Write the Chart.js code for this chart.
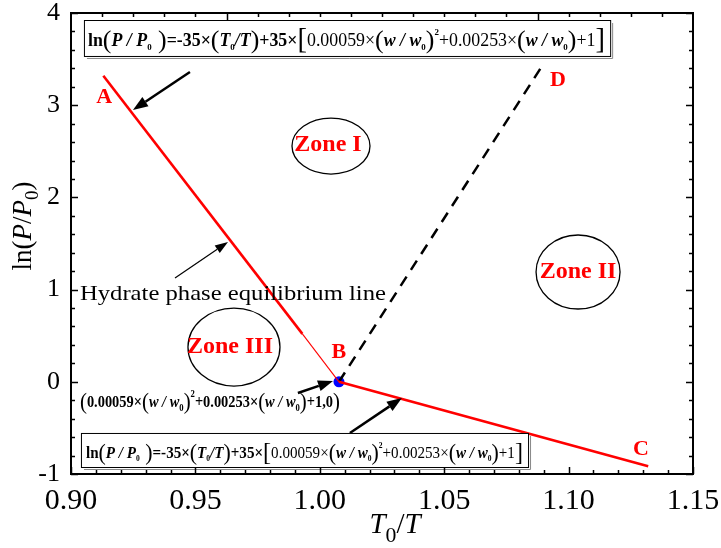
<!DOCTYPE html>
<html>
<head>
<meta charset="utf-8">
<script src="https://cdn.jsdelivr.net/npm/chart.js@4.4.1/dist/chart.umd.min.js"></script>
<style>
  html, body { margin: 0; padding: 0; background: #fff; }
  #wrap { width: 721px; height: 548px; }
</style>
</head>
<body>
<div id="wrap"><canvas id="phaseChart" width="721" height="548"></canvas></div>
<script>
// --- Phase diagram data ---
const xMin = 0.90, xMax = 1.15;
const yMin = -1, yMax = 4;

// hydrate equilibrium line, A -> B (thick part, then thin part near B)
const eqUpperX = [0.913, 0.993];
const eqUpperY = [3.32, 0.52];
const eqThinX = [0.993, 1.0077];
const eqThinY = [0.52, 0];
// B -> C
const eqLowerX = [1.0077, 1.132];
const eqLowerY = [0, -0.915];
// B -> D (dashed boundary)
const boundaryX = [1.0077, 1.0897];
const boundaryY = [0, 3.44];
// point B
const pointBX = [1.0077];
const pointBY = [0];

const toPts = (xs, ys) => xs.map((x, i) => ({ x: x, y: ys[i] }));

const SERIF = '"Liberation Serif", "Times New Roman", serif';

// --- helpers for annotations ---
function fontFor(style, size) {
  const w = style.includes('b') ? 'bold ' : '';
  const it = style.includes('i') ? 'italic ' : '';
  return `${it}${w}${size}px ${SERIF}`;
}

// draws a row of mixed-style text runs squeezed to a given width
function drawRuns(ctx, runs, x, baseline, size, width) {
  let total = 0;
  const widths = runs.map(r => {
    ctx.font = fontFor(r[1], size * (r[2] || 1));
    const w = ctx.measureText(r[0]).width;
    total += w;
    return w;
  });
  const sx = width / total;
  ctx.save();
  ctx.translate(x, baseline);
  ctx.scale(sx, 1);
  ctx.textAlign = 'left';
  ctx.textBaseline = 'alphabetic';
  let cx = 0;
  runs.forEach((r, i) => {
    ctx.font = fontFor(r[1], size * (r[2] || 1));
    ctx.fillText(r[0], cx, (r[3] || 0) * size);
    cx += widths[i];
  });
  ctx.restore();
}

// centred row of runs, natural width
function drawRunsCentered(ctx, runs, cx, baseline, size) {
  let w = 0;
  runs.forEach(r => { ctx.font = fontFor(r[1], size * (r[2] || 1)); w += ctx.measureText(r[0]).width; });
  let x = cx - w / 2;
  runs.forEach(r => {
    ctx.font = fontFor(r[1], size * (r[2] || 1));
    ctx.fillText(r[0], x, baseline + (r[3] || 0) * size);
    x += ctx.measureText(r[0]).width;
  });
}

function arrow(ctx, x1, y1, x2, y2, lw, len, half) {
  const a = Math.atan2(y2 - y1, x2 - x1);
  const bx = x2 - len * Math.cos(a), by = y2 - len * Math.sin(a);
  ctx.save();
  ctx.strokeStyle = '#000';
  ctx.fillStyle = '#000';
  ctx.lineWidth = lw;
  ctx.beginPath();
  ctx.moveTo(x1, y1);
  ctx.lineTo(bx, by);
  ctx.stroke();
  ctx.beginPath();
  ctx.moveTo(x2, y2);
  ctx.lineTo(bx + half * Math.sin(a), by - half * Math.cos(a));
  ctx.lineTo(bx - half * Math.sin(a), by + half * Math.cos(a));
  ctx.closePath();
  ctx.fill();
  ctx.restore();
}

const eqRuns = [
  ['ln', 'b'], ['(', 'r', 1.45, 0.1], ['P', 'bi'], [' / ', 'bi'], ['P', 'bi'], ['0', 'b', 0.5, 0.2],
  [' )', 'r', 1.45, 0.1], ['=-35×', 'b'], ['(', 'r', 1.45, 0.1], ['T', 'bi'], ['0', 'b', 0.5, 0.2],
  ['/T', 'bi'], [')', 'r', 1.45, 0.1], ['+35×', 'b'], ['[', 'r', 1.6, 0.14], ['0.00059×', 'r'],
  ['(', 'r', 1.45, 0.1], ['w / w', 'bi'], ['0', 'b', 0.5, 0.2], [')', 'r', 1.45, 0.1], ['2', 'b', 0.5, -0.6],
  ['+0.00253×', 'r'], ['(', 'r', 1.45, 0.1], ['w / w', 'bi'], ['0', 'b', 0.5, 0.2], [')', 'r', 1.45, 0.1],
  ['+1', 'r'], [']', 'r', 1.6, 0.14]
];

const pointRuns = [
  ['(', 'r', 1.45, 0.1], ['0.00059×', 'b'], ['(', 'r', 1.45, 0.1], ['w / w', 'bi'], ['0', 'b', 0.6, 0.25],
  [')', 'r', 1.45, 0.1], ['2', 'b', 0.6, -0.6], ['+0.00253×', 'b'], ['(', 'r', 1.45, 0.1], ['w / w', 'bi'],
  ['0', 'b', 0.6, 0.25], [')', 'r', 1.45, 0.1], ['+1,0', 'b'], [')', 'r', 1.45, 0.1]
];

const annotations = {
  id: 'annotations',
  afterDatasetsDraw(chart) {
    const { ctx, scales: { x, y } } = chart;
    const px = v => x.getPixelForValue(v);
    const py = v => y.getPixelForValue(v);
    ctx.save();

    // zone ellipses
    ctx.strokeStyle = '#000';
    ctx.lineWidth = 1.3;
    [[1.0045, 2.557, 39, 28], [1.1038, 1.191, 42, 37], [0.9655, 0.377, 46, 39]].forEach(e => {
      ctx.beginPath();
      ctx.ellipse(px(e[0]), py(e[1]), e[2], e[3], 0, 0, Math.PI * 2);
      ctx.stroke();
    });

    // red labels
    ctx.fillStyle = '#ff0000';
    ctx.textAlign = 'center';
    ctx.textBaseline = 'middle';
    ctx.font = `bold 24px ${SERIF}`;
    ctx.fillText('Zone I', px(1.0033), py(2.57));
    ctx.fillText('Zone II', px(1.1038), py(1.19));
    ctx.fillText('Zone III', px(0.9639), py(0.377));
    ctx.font = `bold 22px ${SERIF}`;
    ctx.fillText('A', px(0.9133), py(3.089));
    ctx.fillText('D', px(1.0957), py(3.273));
    ctx.fillText('B', px(1.0077), py(0.323));
    ctx.fillText('C', px(1.1291), py(-0.729));

    // hydrate line caption
    ctx.fillStyle = '#000';
    ctx.textAlign = 'left';
    ctx.textBaseline = 'alphabetic';
    ctx.font = `21px ${SERIF}`;
    const cap = 'Hydrate phase equilibrium line';
    const capW = ctx.measureText(cap).width;
    ctx.save();
    ctx.translate(px(0.9036), py(0.89));
    ctx.scale(306 / capW, 1);
    ctx.fillText(cap, 0, 0);
    ctx.restore();

    // arrows
    arrow(ctx, px(0.9478), py(3.36), px(0.9249), py(2.948), 2.5, 15, 5.5);
    arrow(ctx, px(0.9418), py(1.126), px(0.9631), py(1.516), 1.2, 13, 4.5);
    arrow(ctx, px(0.9912), py(-0.121), px(1.0053), py(0.009), 2.5, 15, 5.5);
    arrow(ctx, px(1.0121), py(-0.555), px(1.033), py(-0.176), 2.5, 15, 5.5);

    // equation boxes
    const box = (x1, y1, x2, y2) => {
      const l = px(x1), t = py(y1), r = px(x2), b = py(y2);
      ctx.fillStyle = '#fff';
      ctx.fillRect(l, t, r - l, b - t);
      ctx.strokeStyle = '#000';
      ctx.lineWidth = 1;
      ctx.strokeRect(l + 0.5, t + 0.5, r - l, b - t);
      ctx.strokeStyle = '#888';
      ctx.beginPath();
      ctx.moveTo(l + 3, b + 2.5);
      ctx.lineTo(r + 2.5, b + 2.5);
      ctx.lineTo(r + 2.5, t + 3);
      ctx.stroke();
      return { l, t, r, b };
    };
    const top = box(0.9052, 3.924, 1.1167, 3.534);
    ctx.fillStyle = '#000';
    drawRuns(ctx, eqRuns, top.l + 4, top.b - 10, 18, 517);
    const bot = box(0.9040, -0.555, 1.0837, -0.924);
    ctx.fillStyle = '#000';
    drawRuns(ctx, eqRuns, bot.l + 5, bot.b - 9, 16, 437);
    drawRuns(ctx, pointRuns, px(0.9036), py(-0.273), 16, 260);

    ctx.restore();
  }
};

// frame, inward ticks on all four sides, and axis titles
const frame = {
  id: 'frame',
  afterDraw(chart) {
    const { ctx, chartArea: a, scales: { x, y } } = chart;
    ctx.save();
    ctx.strokeStyle = '#000';
    ctx.lineWidth = 2;
    ctx.strokeRect(a.left, a.top, a.right - a.left, a.bottom - a.top);
    ctx.lineWidth = 1.5;
    ctx.beginPath();
    for (let i = 0; i <= 25; i++) {
      const v = xMin + i * 0.01;
      const p = Math.round(x.getPixelForValue(v)) + 0.5;
      const len = i % 5 === 0 ? 7 : 4;
      ctx.moveTo(p, a.bottom);
      ctx.lineTo(p, a.bottom - len);
    }
    for (let k = 1; k < 20; k++) {
      const p = Math.round(a.left + (a.right - a.left) * k / 20) + 0.5;
      const len = (k === 5 || k === 15) ? 7 : 4;
      ctx.moveTo(p, a.top);
      ctx.lineTo(p, a.top + len);
    }
    for (let i = 0; i <= 25; i++) {
      const v = yMin + i * 0.2;
      const p = Math.round(y.getPixelForValue(v)) + 0.5;
      const len = i % 5 === 0 ? 7 : 4;
      ctx.moveTo(a.left, p);
      ctx.lineTo(a.left + len, p);
      ctx.moveTo(a.right, p);
      ctx.lineTo(a.right - len, p);
    }
    ctx.stroke();

    ctx.fillStyle = '#000';
    ctx.textBaseline = 'alphabetic';
    // y title: ln(P/P0)
    ctx.save();
    ctx.translate(31, 226);
    ctx.rotate(-Math.PI / 2);
    drawRunsCentered(ctx, [['ln(', 'r'], ['P', 'i'], ['/', 'r'], ['P', 'i'], ['0', 'r', 0.7, 0.25], [')', 'r']], 0, 0, 27);
    ctx.restore();
    // x title: T0/T
    drawRunsCentered(ctx, [['T', 'i'], ['0', 'r', 0.75, 0.3], ['/', 'r'], ['T', 'i']], 395, 533, 29);
    ctx.restore();
  }
};

// keep the plot box fixed: no extra room for label overhang
const noOverhang = s => {
  s.paddingTop = 0;
  s.paddingBottom = 0;
  s.paddingLeft = 0;
  s.paddingRight = 0;
};

const ctx = document.getElementById('phaseChart').getContext('2d');
new Chart(ctx, {
  type: 'scatter',
  data: {
    datasets: [
      { data: toPts(eqUpperX, eqUpperY), showLine: true, borderColor: '#ff0000', borderWidth: 2.6, pointRadius: 0 },
      { data: toPts(eqThinX, eqThinY), showLine: true, borderColor: '#ff0000', borderWidth: 1.1, pointRadius: 0 },
      { data: toPts(eqLowerX, eqLowerY), showLine: true, borderColor: '#ff0000', borderWidth: 2.6, pointRadius: 0 },
      { data: toPts(boundaryX, boundaryY), showLine: true, borderColor: '#000', borderWidth: 2.5,
        borderDash: [11, 8], pointRadius: 0 },
      { data: toPts(pointBX, pointBY), pointRadius: 5.5, pointBackgroundColor: '#0000ff',
        pointBorderColor: '#0000ff', borderWidth: 0 }
    ]
  },
  options: {
    responsive: false,
    animation: false,
    layout: { padding: { top: 13, right: 28, left: 0, bottom: 0 } },
    plugins: {
      legend: { display: false },
      tooltip: { enabled: false }
    },
    scales: {
      x: {
        type: 'linear',
        min: xMin,
        max: xMax,
        grid: { display: false },
        border: { display: false },
        ticks: {
          stepSize: 0.05,
          padding: 1,
          color: '#000',
          font: { family: SERIF, size: 30 },
          callback: v => v.toFixed(2)
        },
        afterFit: s => { s.height = 74; noOverhang(s); }
      },
      y: {
        type: 'linear',
        min: yMin,
        max: yMax,
        grid: { display: false },
        border: { display: false },
        ticks: {
          stepSize: 1,
          padding: 3,
          color: '#000',
          font: { family: SERIF, size: 26 }
        },
        afterFit: s => { s.width = 71; noOverhang(s); }
      }
    }
  },
  plugins: [annotations, frame]
});
</script>
</body>
</html>
